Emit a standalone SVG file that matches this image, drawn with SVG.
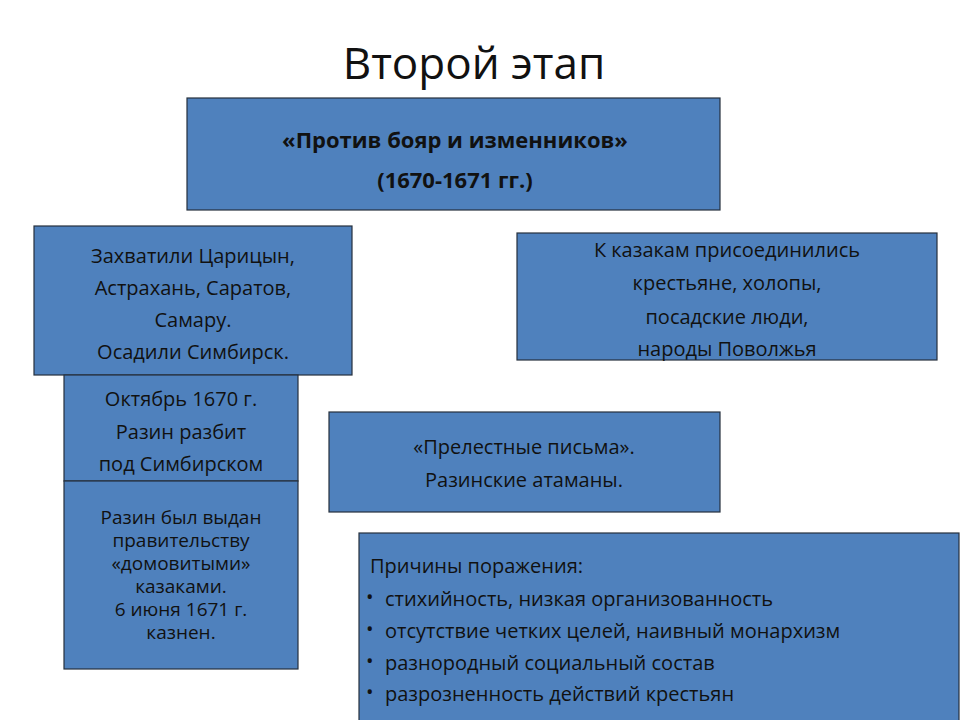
<svg xmlns="http://www.w3.org/2000/svg" width="960" height="720" viewBox="0 0 960 720">
<style>
.b{fill:#4f81bd;stroke:#26303d;stroke-width:1.2}
text{font-family:"Open Sans","Liberation Sans",sans-serif;fill:#111;font-size:20px}
.c{text-anchor:middle}
.h{font-weight:bold;font-size:22px}
.s{font-size:19px}
</style>
<rect width="960" height="720" fill="#fff"/>
<text x="474" y="79" class="c" style="font-size:44px">Второй этап</text>
<g id="n1"><rect class="b" x="187" y="98" width="533" height="112"/>
<text x="455" y="148" class="c h">«Против бояр и изменников»</text>
<text x="455" y="188" class="c h">(1670-1671 гг.)</text></g>
<g id="n2"><rect class="b" x="34" y="226" width="318" height="149"/>
<text class="c" x="193" y="263">Захватили Царицын,</text>
<text class="c" x="193" y="295">Астрахань, Саратов,</text>
<text class="c" x="193" y="327">Самару.</text>
<text class="c" x="193" y="359">Осадили Симбирск.</text></g>
<g id="n3"><rect class="b" x="517" y="233" width="420" height="127"/>
<text class="c" x="727" y="257">К казакам присоединились</text>
<text class="c" x="727" y="290">крестьяне, холопы,</text>
<text class="c" x="727" y="324">посадские люди,</text>
<text class="c" x="727" y="356">народы Поволжья</text></g>
<g id="n4"><rect class="b" x="64" y="375" width="234" height="106"/>
<text class="c" x="181" y="406">Октябрь 1670 г.</text>
<text class="c" x="181" y="439">Разин разбит</text>
<text class="c" x="181" y="471">под Симбирском</text></g>
<g id="n5"><rect class="b" x="64" y="481" width="234" height="188"/>
<text class="c s" x="181" y="524">Разин был выдан</text>
<text class="c s" x="181" y="547">правительству</text>
<text class="c s" x="181" y="570">«домовитыми»</text>
<text class="c s" x="181" y="593">казаками.</text>
<text class="c s" x="181" y="616">6 июня 1671 г.</text>
<text class="c s" x="181" y="639">казнен.</text></g>
<g id="n6"><rect class="b" x="329" y="412" width="391" height="100"/>
<text class="c" x="524" y="454">«Прелестные письма».</text>
<text class="c" x="524" y="487">Разинские атаманы.</text></g>
<g id="n7"><rect class="b" x="359" y="533" width="600" height="190"/>
<text x="370" y="573">Причины поражения:</text>
<text x="366" y="604">•</text><text x="385" y="606">стихийность, низкая организованность</text>
<text x="366" y="636">•</text><text x="385" y="638">отсутствие четких целей, наивный монархизм</text>
<text x="366" y="668">•</text><text x="385" y="670">разнородный социальный состав</text>
<text x="366" y="699">•</text><text x="385" y="701">разрозненность действий крестьян</text></g>
<g id="connectors"/>
</svg>
